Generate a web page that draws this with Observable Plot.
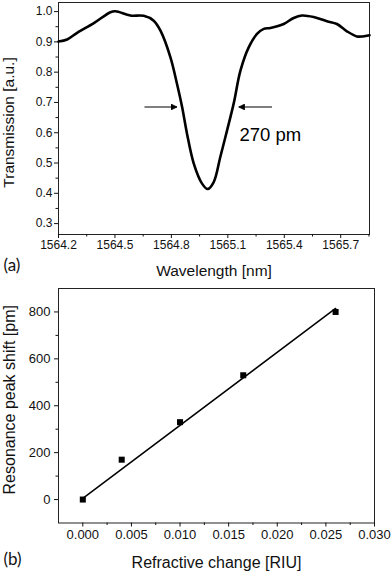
<!DOCTYPE html>
<html><head><meta charset="utf-8">
<script src="https://cdn.jsdelivr.net/npm/d3@7"></script>
<script src="https://cdn.jsdelivr.net/npm/@observablehq/plot@0.6"></script>
<style>
body{margin:0;background:#fff;}
#chart svg{display:block;}
</style>
</head><body><div id="chart"></div>
<script>
// ---- Panel (a): transmission spectrum ----
const wavelength = [1564.200,1564.246,1564.299,1564.388,1564.476,1564.503,1564.582,1564.653,1564.706,1564.742,1564.795,1564.830,1564.857,1564.883,1564.919,1564.963,1564.993,1565.025,1565.060,1565.096,1565.131,1565.167,1565.211,1565.255,1565.291,1565.326,1565.397,1565.450,1565.494,1565.556,1565.627,1565.680,1565.733,1565.786,1565.817,1565.853];
const transmission = [0.901,0.908,0.930,0.962,0.998,1.001,0.987,0.986,0.970,0.937,0.849,0.761,0.685,0.597,0.498,0.432,0.414,0.437,0.520,0.608,0.696,0.805,0.882,0.926,0.943,0.946,0.959,0.979,0.987,0.982,0.968,0.959,0.935,0.918,0.918,0.922];
const wlTicks = [1564.2,1564.5,1564.8,1565.1,1565.4,1565.7];
const wlMinor = [1564.35,1564.65,1564.95,1565.25,1565.55,1565.85];
const trTicks = [0.3,0.4,0.5,0.6,0.7,0.8,0.9,1.0];
const trMinor = [0.35,0.45,0.55,0.65,0.75,0.85,0.95];
const arrowFrom = [1564.657,1565.335];
const arrowTo = [1564.830,1565.158];
const arrowLevel = [0.685,0.685];
const fwhmLabel = "270 pm";
const fwhmLabelPos = [1565.162,0.591];

// ---- Panel (b): sensitivity ----
const riu = [0,0.004,0.010,0.0165,0.026];
const shift = [0,170,330,530,800];
const fitRiu = [0,0.026];
const fitShift = [5,815];
const riuTicks = [0,0.005,0.010,0.015,0.020,0.025,0.030];
const riuMinor = [0.0025,0.0075,0.0125,0.0175,0.0225,0.0275];
const shiftTicks = [0,200,400,600,800];
const shiftMinor = [100,300,500,700];

const font = "'Liberation Sans', Arial, sans-serif";

const spectrum = wavelength.map((w,i)=>({w, t: transmission[i]}));
const arrows = arrowFrom.map((x1,i)=>({x1, x2: arrowTo[i], y: arrowLevel[i]}));

function arrowHead(color){
  const m = document.createElementNS("http://www.w3.org/2000/svg","marker");
  m.setAttribute("viewBox","0 0 10 10");
  m.setAttribute("refX","10");
  m.setAttribute("refY","5");
  m.setAttribute("markerWidth","7");
  m.setAttribute("markerHeight","6");
  m.setAttribute("markerUnits","userSpaceOnUse");
  m.setAttribute("orient","auto");
  const p = document.createElementNS("http://www.w3.org/2000/svg","path");
  p.setAttribute("d","M0,0L10,5L0,10z");
  p.setAttribute("fill",color);
  m.appendChild(p);
  return m;
}

const plotA = Plot.plot({
  width: 392, height: 280,
  marginLeft: 58, marginRight: 23, marginTop: 2, marginBottom: 46,
  style: {fontFamily: font, fontSize: "12px", color: "#111", background: "#fff"},
  x: {domain: [1564.2, 1565.853]},
  y: {domain: [0.264, 1.03]},
  marks: [
    Plot.frame({stroke: "#222", strokeWidth: 1}),
    Plot.axisX({ticks: wlTicks, tickSize: 4, tickPadding: 2, tickFormat: d=>d.toFixed(1), label: null, fontSize: 12}),
    Plot.axisX({ticks: wlMinor, tickSize: 2.5, tickFormat: ()=>"", label: null}),
    Plot.axisY({ticks: trTicks, tickSize: 4, tickPadding: 2, tickFormat: d=>d.toFixed(1), label: null, fontSize: 12}),
    Plot.axisY({ticks: trMinor, tickSize: 2.5, tickFormat: ()=>"", label: null}),
    Plot.line(spectrum, {x: "w", y: "t", stroke: "#000", strokeWidth: 2.6, curve: "catmull-rom"}),
    Plot.link(arrows, {x1: "x1", x2: "x2", y1: "y", y2: "y", stroke: "#000", strokeWidth: 1.1, markerEnd: arrowHead}),
    Plot.text([fwhmLabel], {x: fwhmLabelPos[0], y: fwhmLabelPos[1], text: d=>d, textAnchor: "start", fontSize: 18.5, fill: "#000"}),
    Plot.text(["Wavelength [nm]"], {frameAnchor: "bottom", dy: 37, text: d=>d, fontSize: 15.5, lineAnchor: "middle", fill: "#111"}),
    Plot.text(["Transmission [a.u.]"], {frameAnchor: "left", dx: -49, dy: 4, rotate: -90, text: d=>d, fontSize: 15.5, textAnchor: "middle", lineAnchor: "middle", fill: "#111"}),
    Plot.text(["(a)"], {frameAnchor: "bottom-left", dx: -55, dy: 31, text: d=>d, textAnchor: "start", fontSize: 17, fontFamily: "Lato, sans-serif", lineAnchor: "middle", fill: "#111"})
  ]
});

const plotB = Plot.plot({
  width: 392, height: 291,
  marginLeft: 58, marginRight: 18, marginTop: 8, marginBottom: 48.5,
  style: {fontFamily: font, fontSize: "13px", color: "#111", background: "#fff"},
  x: {domain: [-0.0025, 0.030]},
  y: {domain: [-100, 900]},
  marks: [
    Plot.frame({stroke: "#222", strokeWidth: 1}),
    Plot.axisX({ticks: riuTicks, tickSize: 4, tickPadding: 3, tickFormat: d=>d.toFixed(3), label: null, fontSize: 13}),
    Plot.axisX({ticks: riuMinor, tickSize: 2.5, tickFormat: ()=>"", label: null}),
    Plot.axisY({ticks: shiftTicks, tickSize: 4, tickPadding: 4, tickFormat: d=>String(d), label: null, fontSize: 13}),
    Plot.axisY({ticks: shiftMinor, tickSize: 2.5, tickFormat: ()=>"", label: null}),
    Plot.line({length: fitRiu.length}, {x: fitRiu, y: fitShift, stroke: "#000", strokeWidth: 1.5}),
    Plot.dot({length: riu.length}, {x: riu, y: shift, symbol: "square", r: 3.4, fill: "#000", stroke: "none"}),
    Plot.text(["Refractive change [RIU]"], {frameAnchor: "bottom", dy: 40, text: d=>d, fontSize: 16, lineAnchor: "middle", fill: "#111"}),
    Plot.text(["Resonance peak shift [pm]"], {frameAnchor: "left", dx: -49, dy: -6, rotate: -90, text: d=>d, fontSize: 16, textAnchor: "middle", lineAnchor: "middle", fill: "#111"}),
    Plot.text(["(b)"], {frameAnchor: "bottom-left", dx: -55, dy: 36.5, text: d=>d, textAnchor: "start", fontSize: 17, fontFamily: "Lato, sans-serif", lineAnchor: "middle", fill: "#111"})
  ]
});

document.getElementById("chart").append(plotA, plotB);
</script>
</body></html>
